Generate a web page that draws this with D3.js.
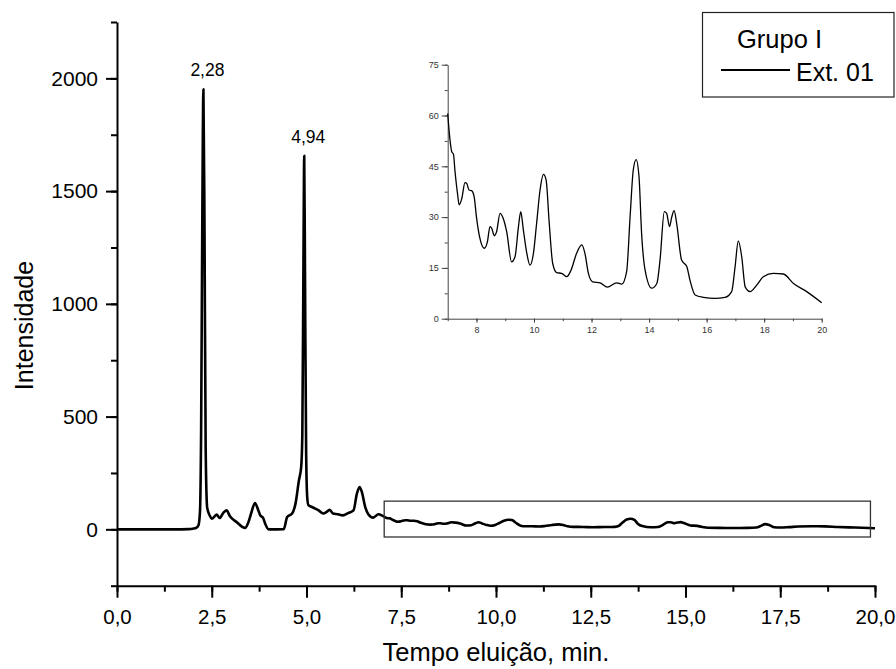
<!DOCTYPE html>
<html>
<head>
<meta charset="utf-8">
<script src="https://cdn.jsdelivr.net/npm/d3@7/dist/d3.min.js"></script>
<style>
  html, body { margin: 0; padding: 0; background: #fff; }
  svg { display: block; font-family: "Liberation Sans", Arial, sans-serif; }
</style>
</head>
<body>
<svg id="chart" width="896" height="669"></svg>
<script>
// ---- Data ----
// Early part of the chromatogram (0 – 7 min)
const earlyTimes  = [0, 1.5, 1.9, 2.0, 2.1, 2.15, 2.19, 2.22, 2.25, 2.28, 2.31, 2.34, 2.38, 2.45, 2.5, 2.63, 2.71, 2.8, 2.89, 2.98, 3.15, 3.38, 3.47, 3.55, 3.64, 3.73, 3.78, 3.85, 3.91, 4.0, 4.4, 4.49, 4.62, 4.71, 4.8, 4.86, 4.89, 4.92, 4.94, 4.96, 4.99, 5.02, 5.05, 5.14, 5.23, 5.32, 5.44, 5.53, 5.61, 5.7, 5.83, 5.96, 6.1, 6.24, 6.33, 6.4, 6.46, 6.55, 6.63, 6.76, 6.9];
const earlyValues = [0, 0, 1, 3, 8, 18, 80, 450, 1350, 1952, 1300, 350, 95, 60, 47, 65, 50, 72, 84, 58, 33, 6, 33, 77, 117, 84, 62, 52, 25, 0, 1, 55, 70, 114, 217, 277, 420, 1200, 1657, 1150, 350, 140, 107, 99, 92, 84, 70, 77, 87, 70, 67, 62, 72, 84, 158, 188, 166, 99, 67, 52, 67];
// Detail part (7 – 20 min), also shown in the inset
const lateTimes  = [7.0, 7.08, 7.14, 7.2, 7.25, 7.34, 7.4, 7.49, 7.6, 7.66, 7.74, 7.83, 7.92, 8.0, 8.12, 8.27, 8.38, 8.47, 8.53, 8.62, 8.7, 8.82, 8.93, 9.05, 9.22, 9.34, 9.46, 9.54, 9.63, 9.75, 9.86, 9.98, 10.09, 10.21, 10.33, 10.42, 10.53, 10.65, 10.79, 10.96, 11.14, 11.29, 11.48, 11.66, 11.77, 11.89, 12.04, 12.3, 12.55, 12.87, 13.05, 13.22, 13.34, 13.45, 13.55, 13.65, 13.74, 13.86, 14.09, 14.27, 14.38, 14.53, 14.61, 14.71, 14.79, 14.87, 14.96, 15.13, 15.31, 15.42, 15.6, 15.89, 16.29, 16.64, 16.87, 16.99, 17.1, 17.22, 17.34, 17.51, 17.74, 17.97, 18.32, 18.67, 19.02, 19.48, 20.0];
const lateValues = [60.6, 52.8, 49.3, 48.6, 43.9, 37, 33.6, 35.5, 40.2, 40, 38, 37.8, 36, 30, 23.7, 20.8, 22.7, 27.2, 26.7, 24.5, 25.7, 31.1, 29.6, 25.7, 16.8, 18.3, 27.2, 31.6, 26.2, 19.3, 15.8, 19.3, 28.1, 38, 42.6, 41, 28.1, 16.3, 13.6, 13.4, 12.4, 14.4, 19.3, 21.8, 19.3, 13.4, 10.9, 10.6, 9.3, 10.6, 10.2, 13.9, 30.1, 43.9, 47, 41.9, 25.2, 14.4, 9, 10.4, 17.3, 31.6, 31.1, 27.2, 30.1, 31.9, 28.1, 17.3, 15.4, 11.4, 7, 6.3, 6, 6.3, 8, 15.4, 23, 18.3, 9.4, 8, 9.9, 12.4, 13.4, 13.2, 10.4, 8, 4.7];

const xTicks = [0, 2.5, 5, 7.5, 10, 12.5, 15, 17.5, 20];
const yTicks = [0, 500, 1000, 1500, 2000];
const insetXTicks = [8, 10, 12, 14, 16, 18, 20];
const insetYTicks = [0, 15, 30, 45, 60, 75];
const peakTimes  = [2.28, 4.94];
const peakValues = [1952, 1657];
const peakLabels = ["2,28", "4,94"];
const zoomBox = { t0: 7.05, t1: 19.88, v0: -34, v1: 125 };
const xTitle = "Tempo eluição, min.";
const yTitle = "Intensidade";
const legendTitle = "Grupo I";
const seriesName = "Ext. 01";

// ---- Drawing ----
const svg = d3.select("#chart");
const font = '"Liberation Sans", Arial, sans-serif';

const x = d3.scaleLinear().domain([0, 20]).range([117, 875]);
const y = d3.scaleLinear().domain([-250, 2250]).range([585.7, 22]);

const mainData = earlyTimes.map((t, i) => [t, earlyValues[i]])
  .concat(lateTimes.map((t, i) => [t, lateValues[i]]));

const fmtComma = d => d3.format(".1f")(d).replace(".", ",");

// minor ticks x
const gxMinor = svg.append("g").attr("transform", `translate(0,${y(-250)})`)
  .call(d3.axisBottom(x).tickValues(d3.range(0, 20.01, 1.25)).tickSize(6).tickFormat(""));
gxMinor.select(".domain").remove();
gxMinor.selectAll("line").attr("stroke", "#000").attr("stroke-width", 2);

const gx = svg.append("g").attr("transform", `translate(0,${y(-250)})`)
  .call(d3.axisBottom(x).tickValues(xTicks).tickSize(12).tickSizeOuter(0).tickPadding(12).tickFormat(fmtComma));
gx.select(".domain").attr("stroke", "#000").attr("stroke-width", 2);
gx.selectAll("line").attr("stroke", "#000").attr("stroke-width", 2);
gx.selectAll("text").attr("font-family", font).attr("font-size", 20.5).attr("fill", "#000");

const gyMinor = svg.append("g").attr("transform", `translate(${x(0)},0)`)
  .call(d3.axisLeft(y).tickValues(d3.range(-250, 2251, 250)).tickSize(6).tickFormat(""));
gyMinor.select(".domain").remove();
gyMinor.selectAll("line").attr("stroke", "#000").attr("stroke-width", 2);

const gy = svg.append("g").attr("transform", `translate(${x(0)},0)`)
  .call(d3.axisLeft(y).tickValues(yTicks).tickSize(11).tickSizeOuter(0).tickPadding(8).tickFormat(d3.format("d")));
gy.select(".domain").attr("stroke", "#000").attr("stroke-width", 2);
gy.selectAll("line").attr("stroke", "#000").attr("stroke-width", 2);
gy.selectAll("text").attr("font-family", font).attr("font-size", 21).attr("fill", "#000");

// Titles
svg.append("text").attr("x", (x(0) + x(20)) / 2).attr("y", 661)
  .attr("text-anchor", "middle").attr("font-family", font).attr("font-size", 25.5).text(xTitle);
svg.append("text").attr("transform", "translate(33,325.5) rotate(-90)")
  .attr("text-anchor", "middle").attr("font-family", font).attr("font-size", 25).text(yTitle);

// Main line
const line = d3.line().x(d => x(d[0])).y(d => y(d[1])).curve(d3.curveMonotoneX);
svg.append("path").datum(mainData).attr("d", line)
  .attr("fill", "none").attr("stroke", "#000").attr("stroke-width", 2.6).attr("stroke-linejoin", "round");

// Peak labels
peakTimes.forEach((t, i) => {
  svg.append("text").attr("x", x(t) + 4).attr("y", y(peakValues[i]) - 13)
    .attr("text-anchor", "middle").attr("font-family", font).attr("font-size", 17.5).text(peakLabels[i]);
});

// Zoom rectangle
svg.append("rect")
  .attr("x", x(zoomBox.t0)).attr("y", y(zoomBox.v1))
  .attr("width", x(zoomBox.t1) - x(zoomBox.t0)).attr("height", y(zoomBox.v0) - y(zoomBox.v1))
  .attr("fill", "none").attr("stroke", "#333").attr("stroke-width", 1.3);

// ---- Inset ----
const ix = d3.scaleLinear().domain([7, 20]).range([447.7, 821.7]);
const iy = d3.scaleLinear().domain([0, 75]).range([318.7, 64.7]);
const insetData = lateTimes.map((t, i) => [t, lateValues[i]]);

const ixMinor = svg.append("g").attr("transform", `translate(0,${iy(0)})`)
  .call(d3.axisBottom(ix).tickValues(d3.range(7, 20.01, 1)).tickSize(2.5).tickFormat(""));
ixMinor.select(".domain").remove();
ixMinor.selectAll("line").attr("stroke", "#444");

const igx = svg.append("g").attr("transform", `translate(0,${iy(0)})`)
  .call(d3.axisBottom(ix).tickValues(insetXTicks).tickSize(4).tickSizeOuter(0).tickPadding(4).tickFormat(d3.format("d")));
igx.select(".domain").attr("stroke", "#444");
igx.selectAll("line").attr("stroke", "#444");
igx.selectAll("text").attr("font-family", font).attr("font-size", 9).attr("fill", "#333");

const iyMinor = svg.append("g").attr("transform", `translate(${ix(7)},0)`)
  .call(d3.axisLeft(iy).tickValues(d3.range(0, 75.01, 7.5)).tickSize(3).tickFormat(""));
iyMinor.select(".domain").remove();
iyMinor.selectAll("line").attr("stroke", "#444");

const igy = svg.append("g").attr("transform", `translate(${ix(7)},0)`)
  .call(d3.axisLeft(iy).tickValues(insetYTicks).tickSize(6).tickSizeOuter(0).tickPadding(3).tickFormat(d3.format("d")));
igy.select(".domain").attr("stroke", "#444");
igy.selectAll("line").attr("stroke", "#444");
igy.selectAll("text").attr("font-family", font).attr("font-size", 9).attr("fill", "#333");

const iline = d3.line().x(d => ix(d[0])).y(d => iy(d[1])).curve(d3.curveMonotoneX);
svg.append("path").datum(insetData).attr("d", iline)
  .attr("fill", "none").attr("stroke", "#000").attr("stroke-width", 1.3);

// ---- Legend ----
const lg = svg.append("g");
lg.append("rect").attr("x", 702.5).attr("y", 12.5).attr("width", 191.5).attr("height", 84.5)
  .attr("fill", "#fff").attr("stroke", "#222").attr("stroke-width", 1.2);
lg.append("text").attr("x", 737).attr("y", 48).attr("font-family", font).attr("font-size", 25.5).text(legendTitle);
lg.append("line").attr("x1", 721).attr("x2", 790).attr("y1", 70).attr("y2", 70)
  .attr("stroke", "#000").attr("stroke-width", 2.2);
lg.append("text").attr("x", 796).attr("y", 81).attr("font-family", font).attr("font-size", 25).text(seriesName);
</script>
</body>
</html>
